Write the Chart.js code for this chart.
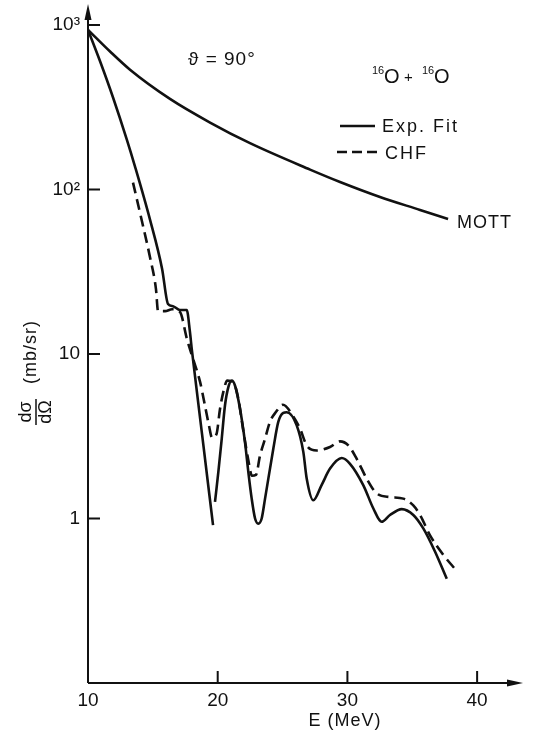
<!DOCTYPE html>
<html>
<head>
<meta charset="utf-8">
<script src="https://cdn.jsdelivr.net/npm/chart.js@4"></script>
<style>
html, body { margin: 0; padding: 0; background: #fff; }
canvas { display: block; }
</style>
</head>
<body>
<canvas id="sigma-chart" width="542" height="730"></canvas>
<script>
// 16O + 16O at 90 deg, cross section in mb/sr vs E in MeV
const mottEnergy = [10.0, 11.7, 13.24, 16.32, 19.41, 22.49, 27.12, 29.43, 32.51, 35.6, 37.76];
const mottSigma  = [933, 689, 534, 355, 255, 191, 132, 111, 90, 75, 66];

// exp. fit, the null makes the break near 19.7 MeV
const fitEnergy = [10.0, 10.93, 11.93, 13.0, 13.62, 14.78, 15.71, 16.17, 16.55, 17.09, 17.61, 17.86, 18.0, 18.79, 19.64,
  19.7, 19.79, 20.05, 20.31, 20.56, 20.82, 21.08, 21.33, 21.72, 22.1, 22.36, 22.62, 22.88, 23.13, 23.39, 23.65, 24.29, 24.67,
  25.06, 25.32, 26.09, 26.6, 26.86, 27.37, 28.0, 28.66, 29.56, 30.2, 31.23, 32.0, 32.64, 33.28, 34.19, 35.08, 35.85, 36.75, 37.66];
const fitSigma = [933, 601, 362, 200, 138, 65.5, 33, 20.1, 19.5, 18.5, 18.5, 13.6, 10.7, 3.27, 0.91,
  null, 1.26, 1.92, 3.05, 4.86, 6.28, 6.89, 6.43, 4.64, 2.92, 1.92, 1.32, 1.0, 0.93, 1.0, 1.32, 2.66, 3.86,
  4.38, 4.42, 3.68, 2.54, 1.75, 1.29, 1.59, 2.01, 2.33, 2.15, 1.59, 1.15, 0.955, 1.05, 1.14, 1.05, 0.87, 0.63, 0.43];

const chfEnergy = [13.47, 14.16, 14.78, 15.24, 15.4, 15.94, 16.48, 17.09, 17.63, 18.1, 18.64, 19.02, 19.33, 19.56, 19.9,
  20.18, 20.43, 20.74, 21.2, 21.59, 21.95, 22.34, 22.64, 22.95, 23.26, 23.65, 24.03, 24.5, 25.03, 25.8, 26.35, 26.86,
  27.63, 28.66, 29.43, 30.07, 30.71, 31.48, 32.26, 33.28, 34.31, 35.08, 35.6, 36.37, 37.4, 38.43];
const chfSigma = [110, 64, 38.7, 24.8, 18.2, 18.2, 18.7, 18.0, 12.3, 9.33, 6.76, 4.84, 3.66, 3.1, 3.25,
  4.64, 5.86, 6.89, 6.73, 5.34, 3.51, 2.31, 1.82, 1.84, 2.41, 3.05, 3.87, 4.45, 4.91, 4.2, 3.51, 2.78,
  2.59, 2.72, 2.94, 2.78, 2.31, 1.75, 1.42, 1.35, 1.32, 1.2, 1.05, 0.79, 0.6, 0.48];

const xTicks = [10, 20, 30, 40];
const yTicks = [1, 10, 100, 1000];
const yTickLabels = ["1", "10", "10²", "10³"];

const ink = "#111";
const font = "'Liberation Sans', 'DejaVu Sans', sans-serif";

function points(xs, ys) {
  return xs.map((x, i) => ({ x: x, y: ys[i] }));
}

const decor = {
  id: "decor",
  beforeDraw(chart) {
    const c = chart.ctx;
    c.save();
    c.fillStyle = "#fff";
    c.fillRect(0, 0, chart.width, chart.height);
    c.restore();
  },
  afterDraw(chart) {
    const c = chart.ctx;
    const area = chart.chartArea;
    const sx = chart.scales.x, sy = chart.scales.y;
    const x0 = sx.getPixelForValue(10);
    const yb = area.bottom;
    c.save();
    c.strokeStyle = ink;
    c.fillStyle = ink;
    c.lineWidth = 2;
    // axes with arrow heads
    c.beginPath();
    c.moveTo(x0, yb); c.lineTo(x0, area.top + 12);
    c.moveTo(x0, yb); c.lineTo(area.right - 10, yb);
    c.stroke();
    c.beginPath();
    c.moveTo(x0, area.top - 1); c.lineTo(x0 - 3.5, area.top + 15); c.lineTo(x0 + 3.5, area.top + 15); c.closePath();
    c.fill();
    c.beginPath();
    c.moveTo(area.right + 1, yb); c.lineTo(area.right - 15, yb - 3.5); c.lineTo(area.right - 15, yb + 3.5); c.closePath();
    c.fill();
    // tick marks pointing inwards
    c.beginPath();
    yTicks.forEach(v => {
      const p = sy.getPixelForValue(v);
      c.moveTo(x0, p); c.lineTo(x0 + 12, p);
    });
    xTicks.slice(1).forEach(v => {
      const p = sx.getPixelForValue(v);
      c.moveTo(p, yb); c.lineTo(p, yb - 12);
    });
    c.stroke();

    c.textBaseline = "alphabetic";
    c.textAlign = "left";
    c.letterSpacing = "1px";
    c.font = "19px " + font;
    c.fillText("ϑ = 90°", 188, 65);

    // 16O + 16O
    c.font = "11px " + font;
    c.letterSpacing = "0px";
    c.fillText("16", 372, 74);
    c.fillText("16", 422, 74);
    c.font = "20px " + font;
    c.fillText("O", 384, 83);
    c.fillText("O", 434, 83);
    c.font = "15px " + font;
    c.fillText("+", 404, 82);

    // legend
    c.lineWidth = 2.5;
    c.beginPath();
    c.moveTo(340, 126); c.lineTo(375, 126);
    c.stroke();
    c.setLineDash([10, 5]);
    c.beginPath();
    c.moveTo(337, 152); c.lineTo(382, 152);
    c.stroke();
    c.setLineDash([]);
    c.font = "18px " + font;
    c.letterSpacing = "2px";
    c.fillText("Exp. Fit", 382, 132);
    c.fillText("CHF", 385, 159);
    c.letterSpacing = "1px";
    c.fillText("MOTT", 457, 228);

    // x title
    c.textAlign = "center";
    c.fillText("E (MeV)", 345, 726);

    // y title, rotated
    c.translate(35, 412);
    c.rotate(-Math.PI / 2);
    c.letterSpacing = "0px";
    c.font = "18px " + font;
    c.textBaseline = "bottom";
    c.fillText("dσ", 0, 0);
    c.textBaseline = "top";
    c.fillText("dΩ", 0, 2);
    c.lineWidth = 1.5;
    c.beginPath();
    c.moveTo(-13, 1); c.lineTo(13, 1);
    c.stroke();
    c.textBaseline = "middle";
    c.letterSpacing = "1px";
    c.fillText("(mb/sr)", 60, -4);
    c.restore();
  }
};

const lineStyle = {
  borderColor: ink,
  borderWidth: 2.6,
  pointRadius: 0,
  fill: false,
  cubicInterpolationMode: "monotone",
  spanGaps: false
};

new Chart(document.getElementById("sigma-chart"), {
  type: "line",
  data: {
    datasets: [
      Object.assign({ label: "MOTT", data: points(mottEnergy, mottSigma) }, lineStyle),
      Object.assign({ label: "Exp. Fit", data: points(fitEnergy, fitSigma) }, lineStyle),
      Object.assign({ label: "CHF", data: points(chfEnergy, chfSigma), borderDash: [11, 6] }, lineStyle)
    ]
  },
  options: {
    responsive: false,
    animation: false,
    devicePixelRatio: 1,
    layout: { padding: { top: 5, right: 20, left: 0, bottom: 0 } },
    plugins: { legend: { display: false }, tooltip: { enabled: false } },
    scales: {
      x: {
        type: "linear",
        min: 10,
        max: 43.46,
        grid: { display: false, drawTicks: false },
        border: { display: false },
        ticks: { color: ink, font: { family: font, size: 19 }, padding: 6, maxRotation: 0, autoSkip: false },
        afterBuildTicks: s => { s.ticks = xTicks.map(v => ({ value: v })); },
        afterFit: s => { s.height = 47; s.paddingLeft = 0; s.paddingRight = 0; }
      },
      y: {
        type: "logarithmic",
        min: 0.1,
        max: 1321,
        grid: { display: false, drawTicks: false },
        border: { display: false },
        ticks: {
          color: ink,
          font: { family: font, size: 19 },
          padding: 8,
          autoSkip: false,
          callback: v => yTickLabels[yTicks.indexOf(v)]
        },
        afterBuildTicks: s => { s.ticks = yTicks.map(v => ({ value: v })); },
        afterFit: s => { s.width = 88; s.paddingTop = 0; s.paddingBottom = 0; }
      }
    }
  },
  plugins: [decor]
});
</script>
</body>
</html>
